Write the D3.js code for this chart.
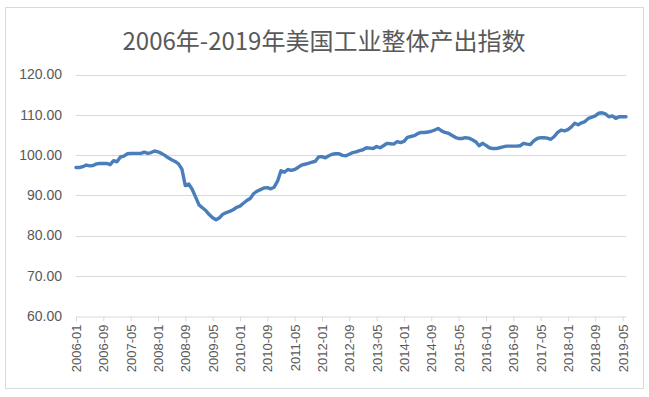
<!DOCTYPE html>
<html><head><meta charset="utf-8">
<script src="https://cdn.jsdelivr.net/npm/d3@7"></script>
<style>html,body{margin:0;padding:0;background:#fff;}svg{display:block;}</style>
</head><body>
<script>
const title = "2006年-2019年美国工业整体产出指数";
const startYear = 2006, startMonth = 1, monthCount = 162;
const values = [
96.9,96.9,97.1,97.5,97.3,97.4,97.8,97.9,97.9,97.9,97.6,98.6,
98.3,99.5,99.7,100.3,100.4,100.4,100.4,100.4,100.7,100.4,100.6,101.0,
100.8,100.4,99.9,99.3,98.8,98.4,97.8,96.5,92.4,92.8,91.5,89.6,
87.6,86.9,86.2,85.2,84.4,83.9,84.4,85.3,85.7,86.0,86.4,87.0,
87.3,88.0,88.7,89.2,90.4,91.0,91.4,91.8,91.9,91.6,92.0,93.5,
96.1,95.7,96.4,96.2,96.4,96.9,97.5,97.7,97.9,98.2,98.4,99.5,
99.6,99.3,99.8,100.2,100.3,100.3,99.9,99.8,100.2,100.6,100.8,101.1,
101.3,101.8,101.7,101.6,102.1,101.8,102.3,102.9,102.8,102.7,103.3,103.1,
103.4,104.4,104.6,104.8,105.3,105.6,105.6,105.7,105.9,106.2,106.6,106.0,
105.6,105.4,104.9,104.4,104.1,104.1,104.3,104.2,103.8,103.3,102.3,102.9,
102.4,101.8,101.6,101.6,101.8,102.0,102.2,102.2,102.2,102.2,102.3,102.9,
102.7,102.6,103.5,104.1,104.3,104.3,104.2,103.9,104.6,105.6,106.2,106.0,
106.3,107.0,107.9,107.5,108.0,108.3,109.1,109.4,109.7,110.4,110.5,110.2,
109.5,109.7,109.1,109.5,109.5,109.5
];
const categories = [];
for (let k = 0; k < monthCount; k++) {
  const m = startMonth - 1 + k;
  const y = startYear + Math.floor(m / 12);
  const mm = (m % 12) + 1;
  categories.push(y + "-" + (mm < 10 ? "0" + mm : "" + mm));
}
const yTicks = [60, 70, 80, 90, 100, 110, 120];
const tickLabels = categories.filter((d, k) => k % 8 === 0);

const W = 649, H = 397;
const svg = d3.select("body").append("svg").attr("width", W).attr("height", H);

svg.append("rect").attr("x", 5.5).attr("y", 7.5).attr("width", 638).attr("height", 381)
  .attr("fill", "#fff").attr("stroke", "#d9d9d9");

svg.append("text").attr("x", 324).attr("y", 50).attr("text-anchor", "middle")
  .attr("font-family", "'Noto Sans CJK SC', sans-serif").attr("font-size", 24)
  .attr("fill", "#595959").text(title);

const x = d3.scalePoint().domain(categories).range([76, 626]);
const y = d3.scaleLinear().domain([60, 120]).range([316, 74.5]);

// gridlines
svg.append("g").selectAll("line").data(yTicks.filter(d => d > 60)).join("line")
  .attr("x1", 76).attr("x2", 626)
  .attr("y1", d => Math.round(y(d)) + 0.5).attr("y2", d => Math.round(y(d)) + 0.5)
  .attr("stroke", "#d9d9d9").attr("stroke-width", 1);

// y axis labels
const yAxis = d3.axisLeft(y).tickValues(yTicks).tickFormat(d3.format(".2f")).tickSize(0).tickPadding(14);
const gy = svg.append("g").attr("transform", "translate(76,0)").call(yAxis);
gy.select(".domain").remove();
gy.selectAll("text").attr("font-family", "'Liberation Sans', Arial, sans-serif")
  .attr("font-size", 14).attr("fill", "#595959");

// x axis
const xAxis = d3.axisBottom(x).tickValues(tickLabels).tickSize(5).tickSizeOuter(0).tickPadding(3);
const gx = svg.append("g").attr("transform", "translate(0,316.5)").call(xAxis);
gx.select(".domain").attr("stroke", "#d9d9d9");
gx.selectAll(".tick line").attr("stroke", "#d9d9d9");
gx.selectAll("text").attr("font-family", "'Liberation Sans', Arial, sans-serif")
  .attr("font-size", 13).attr("fill", "#595959")
  .attr("transform", "rotate(-90)").attr("text-anchor", "end")
  .attr("x", -8).attr("y", 0).attr("dy", "0.35em");

// line
const line = d3.line().x((d, k) => x(categories[k])).y(d => y(d));
svg.append("path").datum(values).attr("d", line)
  .attr("fill", "none").attr("stroke", "#4a7ebb").attr("stroke-width", 3.4)
  .attr("stroke-linejoin", "round").attr("stroke-linecap", "round");
</script>
</body></html>
